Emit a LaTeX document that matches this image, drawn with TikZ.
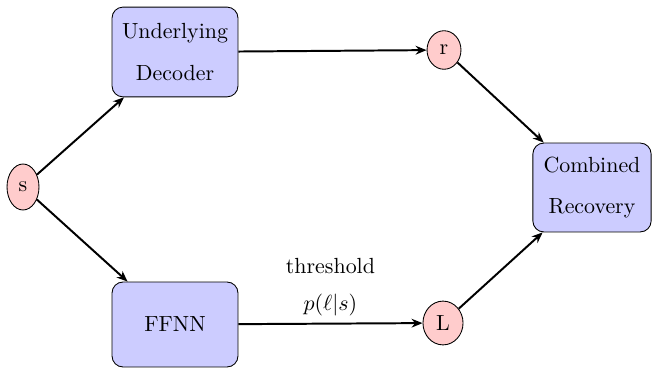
\documentclass[tikz,border=0pt]{standalone}
\usetikzlibrary{arrows.meta,shapes.geometric}
\begin{document}
\begin{tikzpicture}[x=0.4566pt,y=-0.4566pt,
  proc/.style={draw=black, fill=blue!20, rounded corners=5pt, align=center, inner sep=0pt},
  var/.style={draw=black, fill=red!20, ellipse, inner sep=0pt},
  conn/.style={-{Stealth[length=5pt,width=4pt]}, line width=0.9pt}]
\useasboundingbox (0,0) rectangle (656,368);
\node[var, minimum width=14.6pt, minimum height=21pt] (s) at (23,187) {s};
\node[proc, minimum width=57.5pt, minimum height=41pt] (ud) at (175,52) {Underlying\\[7pt]Decoder};
\node[proc, minimum width=57.5pt, minimum height=38.8pt] (ffnn) at (175,324.5) {FFNN};
\node[var, minimum width=15.5pt, minimum height=17.6pt] (r) at (444,50) {r};
\node[var, minimum width=18.3pt, minimum height=20pt] (L) at (443,323) {L};
\node[proc, minimum width=54pt, minimum height=40.6pt] (cr) at (592,187.5) {Combined\\[7pt]Recovery};
\draw[conn] (s) -- (ud);
\draw[conn] (s) -- (ffnn);
\draw[conn] (ud) -- (r);
\draw[conn] (ffnn) -- node[above, align=center, inner sep=3pt] (thr) {threshold\\[5pt]$p(\ell|s)$} (L);
\draw[conn] (r) -- (cr);
\draw[conn] (L) -- (cr);
\end{tikzpicture}
\end{document}
